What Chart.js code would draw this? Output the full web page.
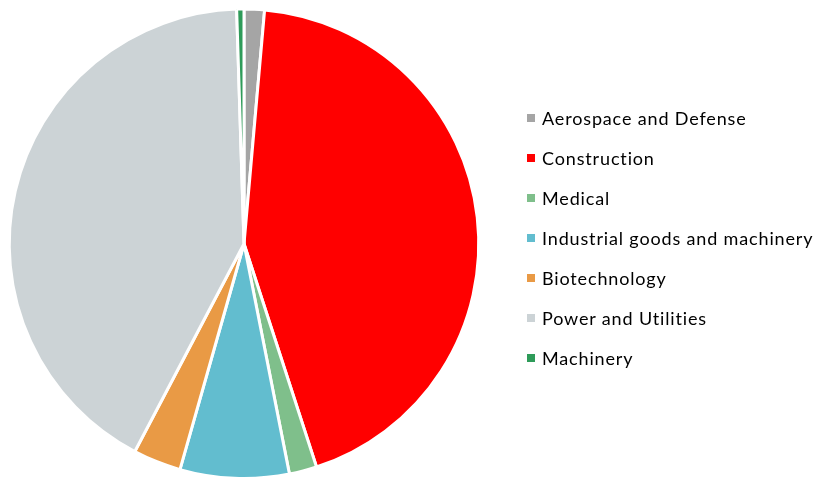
<!DOCTYPE html>
<html>
<head>
<meta charset="utf-8">
<script src="https://cdn.jsdelivr.net/npm/chart.js@4/dist/chart.umd.min.js"></script>
<style>
  html, body { margin: 0; padding: 0; background: #fff; }
  #wrap { position: relative; width: 819px; height: 480px; overflow: hidden; }
  #chart { position: absolute; left: 0; top: 0; }
  #legend { position: absolute; left: 527px; top: 98px; margin: 0; padding: 0; list-style: none;
            font-family: Lato, "Liberation Sans", sans-serif; font-size: 18px; letter-spacing: 0.85px; color: #000; }
  #legend li { height: 40px; display: flex; align-items: center; white-space: nowrap; }
  #legend .box { width: 8px; height: 8px; margin-right: 7px; flex: none; }
</style>
</head>
<body>
<div id="wrap">
  <canvas id="chart" width="819" height="480"></canvas>
  <ul id="legend"></ul>
</div>
<script>
// Sector shares (%), clockwise from 12 o'clock
const categories = [
  "Aerospace and Defense",
  "Construction",
  "Medical",
  "Industrial goods and machinery",
  "Biotechnology",
  "Power and Utilities",
  "Machinery"
];
const shares = [1.4, 43.6, 1.9, 7.5, 3.3, 41.8, 0.5];
const sliceColors = ["#A5A5A5", "#FF0000", "#7FBF8B", "#62BDCF", "#E99A45", "#CCD3D6", "#2E9B59"];

const chart = new Chart(document.getElementById("chart"), {
  type: "pie",
  data: {
    labels: categories,
    datasets: [{
      data: shares,
      backgroundColor: sliceColors,
      borderColor: "#ffffff",
      borderWidth: 3
    }]
  },
  options: {
    responsive: false,
    animation: false,
    layout: { padding: { left: 6, right: 337, top: 7.5, bottom: -3.5 } },
    plugins: {
      legend: { display: false },
      tooltip: { enabled: false }
    }
  }
});

// HTML legend built from the chart's own label items
const legendEl = document.getElementById("legend");
chart.options.plugins.legend.labels.generateLabels(chart).forEach(item => {
  const li = document.createElement("li");
  const box = document.createElement("span");
  box.className = "box";
  box.style.background = item.fillStyle;
  li.appendChild(box);
  li.appendChild(document.createTextNode(item.text));
  legendEl.appendChild(li);
});
</script>
</body>
</html>
